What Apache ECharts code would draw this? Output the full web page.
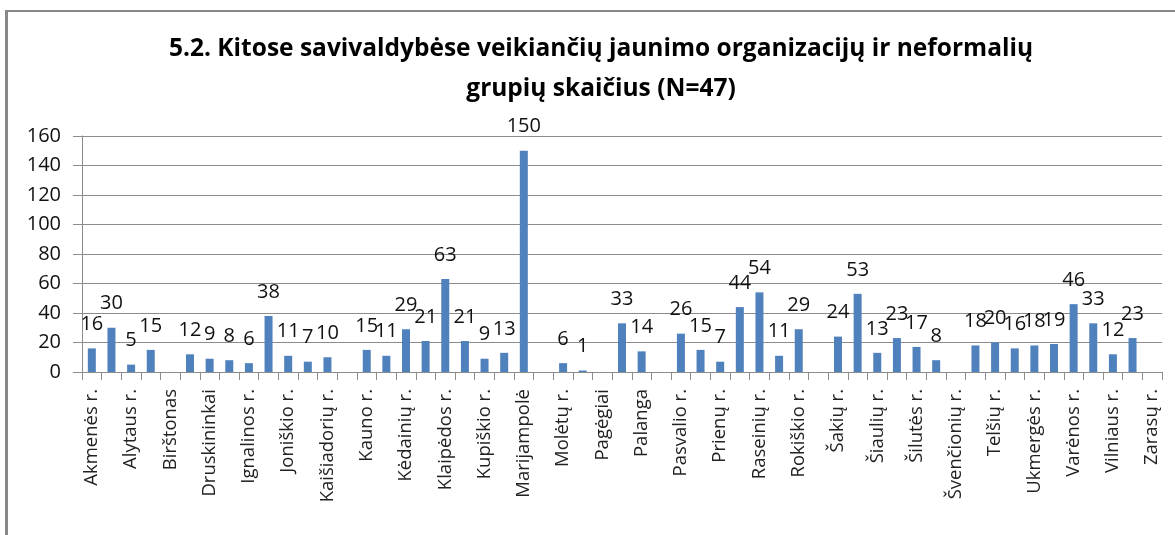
<!DOCTYPE html>
<html>
<head>
<meta charset="utf-8">
<script src="https://cdn.jsdelivr.net/npm/echarts@6/dist/echarts.min.js"></script>
<style>
  html, body { margin: 0; padding: 0; background: #fff; }
  #chart { width: 1175px; height: 535px; }
</style>
</head>
<body>
<div id="chart"></div>
<script>
// savivaldybės (kas antra etiketė rodoma)
const municipalities = [
    'Akmenės r.', 'Alytaus m.', 'Alytaus r.', 'Anykščių r.', 'Birštonas',
    'Biržų r.', 'Druskininkai', 'Elektrėnai', 'Ignalinos r.', 'Jonavos r.',
    'Joniškio r.', 'Jurbarko r.', 'Kaišiadorių r.', 'Kalvarija', 'Kauno r.',
    'Kazlų Rūda', 'Kėdainių r.', 'Kelmės r.', 'Klaipėdos r.', 'Kretingos r.',
    'Kupiškio r.', 'Lazdijų r.', 'Marijampolė', 'Mažeikių r.', 'Molėtų r.',
    'Neringa', 'Pagėgiai', 'Pakruojo r.', 'Palanga', 'Panevėžio r.',
    'Pasvalio r.', 'Plungės r.', 'Prienų r.', 'Radviliškio r.', 'Raseinių r.',
    'Rietavas', 'Rokiškio r.', 'Skuodo r.', 'Šakių r.', 'Šalčininkų r.',
    'Šiaulių r.', 'Šilalės r.', 'Šilutės r.', 'Širvintų r.', 'Švenčionių r.',
    'Tauragės r.', 'Telšių r.', 'Trakų r.', 'Ukmergės r.', 'Utenos r.',
    'Varėnos r.', 'Vilkaviškio r.', 'Vilniaus r.', 'Visaginas', 'Zarasų r.'
];

// organizacijų ir grupių skaičius
const counts = [
    16, 30, 5, 15, null, 12, 9, 8, 6, 38,
    11, 7, 10, null, 15, 11, 29, 21, 63, 21,
    9, 13, 150, null, 6, 1, null, 33, 14, null,
    26, 15, 7, 44, 54, 11, 29, null, 24, 53,
    13, 23, 17, 8, null, 18, 20, 16, 18, 19,
    46, 33, 12, 23, null
];

const yTicks = [0, 20, 40, 60, 80, 100, 120, 140, 160];

const chart = echarts.init(document.getElementById('chart'));

const fontFamily = '"Open Sans", "Noto Sans", sans-serif';
const gridColor = '#8c8c8c';

const option = {
    animation: false,
    title: {
        text: '5.2. Kitose savivaldybėse veikiančių jaunimo organizacijų ir neformalių\ngrupių skaičius (N=47)',
        left: 596,
        top: 24,
        textAlign: 'center',
        textStyle: {
            fontFamily: fontFamily,
            fontSize: 24.5,
            fontWeight: 'bold',
            color: '#000',
            lineHeight: 40
        }
    },
    // rėmelis
    graphic: [
        { type: 'rect', shape: { x: 5, y: 10, width: 1172, height: 2 }, style: { fill: '#888' } },
        { type: 'rect', shape: { x: 5, y: 10, width: 3, height: 530 }, style: { fill: '#888' } }
    ],
    grid: {
        left: 82,
        right: 13,
        top: 136,
        bottom: 163
    },
    xAxis: {
        type: 'category',
        data: municipalities,
        axisLine: { lineStyle: { color: gridColor, width: 1 } },
        axisTick: { show: true, length: 8, interval: 0, lineStyle: { color: gridColor } },
        axisLabel: {
            interval: 1,
            rotate: 90,
            margin: 17,
            fontFamily: fontFamily,
            fontSize: 18.5,
            color: '#222'
        }
    },
    yAxis: {
        type: 'value',
        min: yTicks[0],
        max: yTicks[yTicks.length - 1],
        interval: 20,
        axisLine: { show: true, lineStyle: { color: gridColor } },
        axisTick: { show: true, length: 9, lineStyle: { color: gridColor } },
        axisLabel: {
            margin: 21,
            fontFamily: fontFamily,
            fontSize: 20,
            color: '#111'
        },
        splitLine: { lineStyle: { color: gridColor, width: 1 } }
    },
    series: [{
        type: 'bar',
        data: counts,
        barWidth: 8,
        itemStyle: { color: '#4f81bd' },
        label: {
            show: true,
            position: 'top',
            distance: 14,
            fontFamily: fontFamily,
            fontSize: 20,
            color: '#111'
        }
    }]
};

chart.setOption(option);
</script>
</body>
</html>
